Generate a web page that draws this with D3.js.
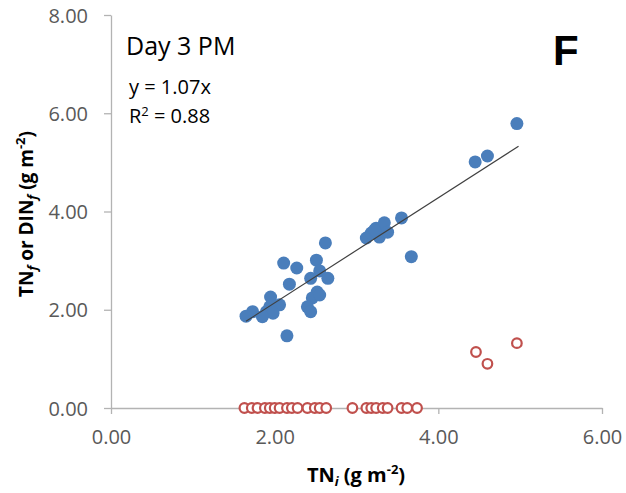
<!DOCTYPE html>
<html>
<head>
<meta charset="utf-8">
<script src="https://cdn.jsdelivr.net/npm/d3@7"></script>
<style>
  body { margin: 0; background: #fff; }
  text { font-family: "Open Sans", "Liberation Sans", sans-serif; }
</style>
</head>
<body>
<div id="chart"></div>
<script>
// TN_i vs TN_f (blue, filled)
var tnInit = [4.96, 4.45, 4.60, 3.55, 3.67, 3.12, 3.18, 3.24, 3.28, 3.34, 3.38, 3.22,
              2.62, 2.51, 2.11, 2.27, 2.55, 2.44, 2.65, 2.18, 2.52, 2.46, 2.55, 2.40,
              2.44, 1.95, 2.06, 1.94, 1.90, 1.98, 1.85, 1.73, 1.65, 2.15];
var tnFinal = [5.79, 5.01, 5.13, 3.87, 3.08, 3.46, 3.56, 3.66, 3.48, 3.77, 3.58, 3.62,
               3.36, 3.01, 2.95, 2.85, 2.79, 2.64, 2.64, 2.52, 2.36, 2.24, 2.30, 2.06,
               1.96, 2.26, 2.10, 2.06, 1.96, 1.93, 1.86, 1.96, 1.87, 1.47];
// TN_i vs DIN_f (red, hollow)
var dinInit = [1.63, 1.72, 1.79, 1.88, 1.94, 2.00, 2.06, 2.15, 2.21, 2.28, 2.40, 2.49,
               2.55, 2.63, 2.95, 3.12, 3.18, 3.24, 3.32, 3.38, 3.55, 3.62, 3.74,
               4.46, 4.60, 4.96];
var dinFinal = [0, 0, 0, 0, 0, 0, 0, 0, 0, 0, 0, 0,
                0, 0, 0, 0, 0, 0, 0, 0, 0, 0, 0,
                1.14, 0.90, 1.32];
var slope = 1.07;
var fitRange = [1.65, 4.98];
var xTicks = [0, 2, 4, 6];
var yTicks = [0, 2, 4, 6, 8];

var width = 626, height = 493;
var svg = d3.select("#chart").append("svg")
    .attr("width", width)
    .attr("height", height);

var x = d3.scaleLinear().domain([0, 6]).range([111, 602]);
var y = d3.scaleLinear().domain([0, 8]).range([408, 15]);

// axes
var xAxis = svg.append("g")
    .attr("transform", "translate(0," + y(0) + ")")
    .call(d3.axisBottom(x).tickValues(xTicks).tickSize(6).tickSizeOuter(0).tickPadding(12)
        .tickFormat(d3.format(".2f")));
var yAxis = svg.append("g")
    .attr("transform", "translate(" + x(0) + ",0)")
    .call(d3.axisLeft(y).tickValues(yTicks).tickSize(7).tickSizeOuter(0).tickPadding(16)
        .tickFormat(d3.format(".2f")));

[xAxis, yAxis].forEach(function (g) {
    g.select(".domain").attr("stroke", "#b3b3b3").attr("stroke-width", 1.3);
    g.selectAll(".tick line").attr("stroke", "#b3b3b3").attr("stroke-width", 1.3);
    g.selectAll(".tick text").attr("fill", "#595959").style("font-size", "20px")
        .style("font-family", "'Open Sans', 'Liberation Sans', sans-serif");
});
xAxis.selectAll(".tick text").attr("dy", "0.9em");
yAxis.selectAll(".tick text").attr("dy", "0.35em");

// red hollow circles
svg.append("g").selectAll("circle")
    .data(dinInit.map(function (d, i) { return [d, dinFinal[i]]; }))
    .enter().append("circle")
    .attr("cx", function (d) { return x(d[0]); })
    .attr("cy", function (d) { return y(d[1]); })
    .attr("r", 4.8)
    .attr("fill", "#fff")
    .attr("stroke", "#c0504d")
    .attr("stroke-width", 2.2);

// blue filled circles
svg.append("g").selectAll("circle")
    .data(tnInit.map(function (d, i) { return [d, tnFinal[i]]; }))
    .enter().append("circle")
    .attr("cx", function (d) { return x(d[0]); })
    .attr("cy", function (d) { return y(d[1]); })
    .attr("r", 6.5)
    .attr("fill", "#4a7ebb");

// trend line y = 1.07x
svg.append("line")
    .attr("x1", x(fitRange[0])).attr("y1", y(fitRange[0] * slope))
    .attr("x2", x(fitRange[1])).attr("y2", y(fitRange[1] * slope))
    .attr("stroke", "#404040")
    .attr("stroke-width", 1.2);

// annotations
svg.append("text").attr("x", 126).attr("y", 55)
    .style("font-size", "25px").attr("fill", "#000").text("Day 3 PM");
svg.append("text").attr("x", 129).attr("y", 94)
    .style("font-size", "20px").attr("fill", "#000").text("y = 1.07x");
var r2 = svg.append("text").attr("x", 129).attr("y", 123)
    .style("font-size", "20px").attr("fill", "#000");
r2.append("tspan").text("R");
r2.append("tspan").attr("dy", -7).style("font-size", "13px").text("2");
r2.append("tspan").attr("dy", 7).text(" = 0.88");

svg.append("text").attr("x", 553).attr("y", 65)
    .style("font-size", "42px").style("font-weight", "bold")
    .style("font-family", "'Liberation Sans', Arial, sans-serif")
    .attr("fill", "#000").text("F");

// x axis title
var xt = svg.append("text").attr("x", 356).attr("y", 482)
    .attr("text-anchor", "middle")
    .style("font-size", "20px").style("font-weight", "bold").attr("fill", "#000");
xt.append("tspan").text("TN");
xt.append("tspan").attr("dy", 4).style("font-size", "13px").style("font-style", "italic").text("i");
xt.append("tspan").attr("dy", -4).text(" (g m");
xt.append("tspan").attr("dy", -8).style("font-size", "13px").text("-2");
xt.append("tspan").attr("dy", 8).text(")");

// y axis title
var yt = svg.append("text")
    .attr("transform", "translate(33," + 214 + ") rotate(-90)")
    .attr("text-anchor", "middle")
    .style("font-size", "19px").style("font-weight", "bold").attr("fill", "#000");
yt.append("tspan").text("TN");
yt.append("tspan").attr("dy", 4).style("font-size", "13px").style("font-style", "italic").text("f");
yt.append("tspan").attr("dy", -4).text(" or DIN");
yt.append("tspan").attr("dy", 4).style("font-size", "13px").style("font-style", "italic").text("f");
yt.append("tspan").attr("dy", -4).text(" (g m");
yt.append("tspan").attr("dy", -8).style("font-size", "13px").text("-2");
yt.append("tspan").attr("dy", 8).text(")");
</script>
</body>
</html>
